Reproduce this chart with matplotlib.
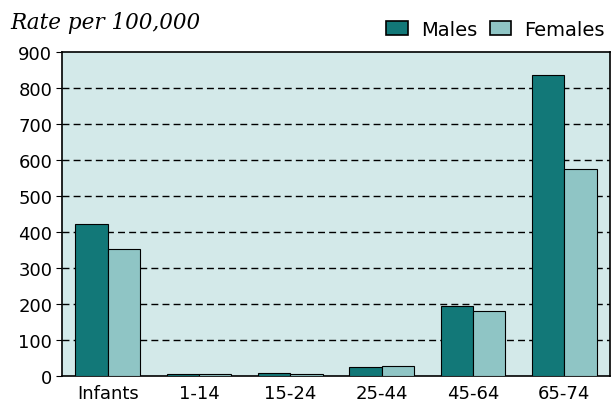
import matplotlib.pyplot as plt
import numpy as np

categories = ['Infants', '1-14', '15-24', '25-44', '45-64', '65-74']
males = [422, 5, 8, 25, 194, 836]
females = [352, 5, 5, 28, 180, 575]

fig = plt.figure(figsize=(6.12, 4.10), dpi=100)
ax = fig.add_axes([62/612, 33/410, 548/612, 324/410])
ax.set_facecolor('#d3e9e9')

x = np.arange(len(categories))
w = 0.355
ax.bar(x - w/2, males, w, color='#127878', edgecolor='black', linewidth=0.8, label='Males', zorder=3)
ax.bar(x + w/2, females, w, color='#8fc5c5', edgecolor='black', linewidth=0.8, label='Females', zorder=3)

ax.set_xlim(-0.5, len(categories) - 0.5)
ax.set_ylim(0, 900)
ax.set_yticks(range(0, 901, 100))
ax.set_xticks(x)
ax.set_xticklabels(categories)
ax.tick_params(axis='x', length=0, labelsize=13, pad=6)
ax.tick_params(axis='y', length=4, labelsize=13, direction='out', pad=3)
for y in range(100, 900, 100):
    ax.axhline(y, color='black', linestyle=(0, (5, 3)), linewidth=1, zorder=1)
for s in ax.spines.values():
    s.set_linewidth(1.2)

fig.text(10/612, 1 - 29/410, 'Rate per 100,000', fontsize=15.5, style='italic',
         family='DejaVu Serif', va='baseline', ha='left')
leg = fig.legend(loc='center right', bbox_to_anchor=(605/612, 1 - 30/410), ncol=2,
                 frameon=False, fontsize=14, handlelength=1.1, handleheight=0.72,
                 handletextpad=0.67, columnspacing=0.67, borderaxespad=0, borderpad=0)
for p in leg.get_patches():
    p.set_edgecolor('black')
    p.set_linewidth(1.2)

fig.savefig('out.png', dpi=100)
